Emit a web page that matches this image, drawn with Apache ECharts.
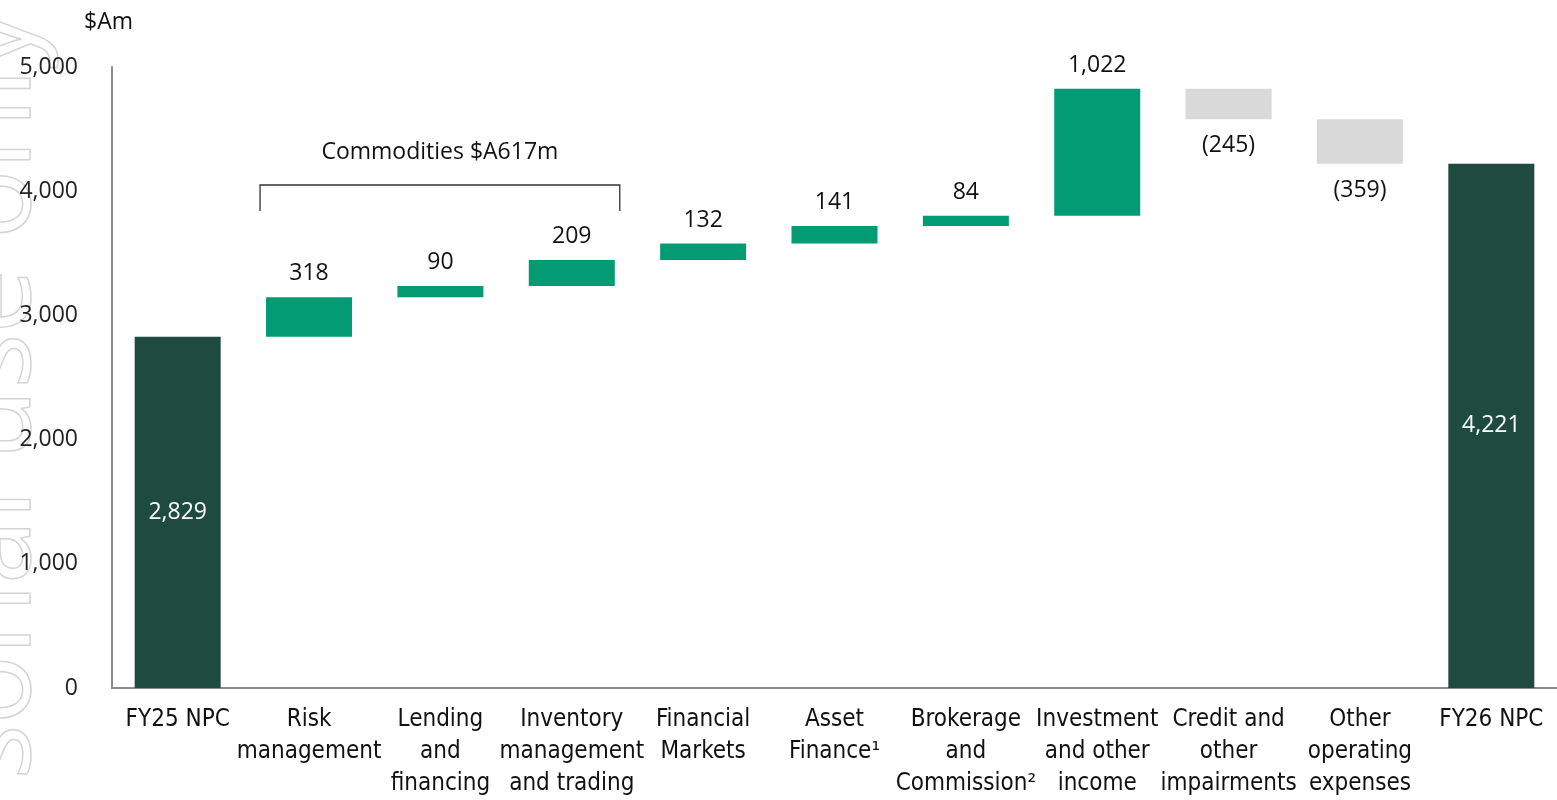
<!DOCTYPE html>
<html>
<head>
<meta charset="utf-8">
<script src="https://cdn.jsdelivr.net/npm/echarts@6/dist/echarts.min.js"></script>
<style>
html,body{margin:0;padding:0;background:#fff;}
#chart{width:1557px;height:800px;}
</style>
</head>
<body>
<div id="chart"></div>
<script>
// ---- data ----
const categories = ['FY25 NPC', 'Risk\nmanagement', 'Lending\nand\nfinancing', 'Inventory\nmanagement\nand trading',
  'Financial\nMarkets', 'Asset\nFinance¹', 'Brokerage\nand\nCommission²', 'Investment\nand other\nincome',
  'Credit and\nother\nimpairments', 'Other\noperating\nexpenses', 'FY26 NPC'];
const openingValue = 2829;
const movements = [318, 90, 209, 132, 141, 84, 1022, -245, -359];
const closingValue = 4221;
const yMin = 0, yMax = 5000, yInterval = 1000;
const bracketLabel = 'Commodities $A617m';
const bracketFrom = 1, bracketTo = 3;   // category indices covered by bracket
const bracketValue = 4050, bracketTickValue = 3840, bracketTextValue = 4310;
const watermarkText = 'For personal use only';

// ---- build waterfall ----
const baseArr = [], incArr = [], decArr = [], totArr = [];
let running = openingValue;
baseArr.push('-'); incArr.push('-'); decArr.push('-'); totArr.push(openingValue);
movements.forEach(m => {
  if (m >= 0) { baseArr.push(running); incArr.push(m); decArr.push('-'); running += m; }
  else { running += m; baseArr.push(running); incArr.push('-'); decArr.push(-m); }
  totArr.push('-');
});
baseArr.push('-'); incArr.push('-'); decArr.push('-'); totArr.push(closingValue);

const fmt = v => Number(v).toLocaleString('en-US');
const numFont = "'Open Sans', 'Noto Sans', sans-serif";
const catFont = "'Liberation Sans Narrow', 'DejaVu Sans Condensed', 'Open Sans', sans-serif";

const chart = echarts.init(document.getElementById('chart'));
const option = {
  animation: false,
  backgroundColor: '#ffffff',
  grid: { left: 112, right: 0, top: 67, bottom: 105, containLabel: false },
  xAxis: {
    type: 'category', data: categories,
    axisLine: { show: true, lineStyle: { color: '#8c8c8c', width: 2 } },
    axisTick: { show: false },
    axisLabel: { interval: 0, color: '#111', fontFamily: catFont, fontSize: 24, lineHeight: 32, margin: 16 }
  },
  yAxis: {
    type: 'value', min: yMin, max: yMax, interval: yInterval,
    axisLine: { show: true, lineStyle: { color: '#8c8c8c', width: 2 } },
    axisTick: { show: false },
    splitLine: { show: false },
    axisLabel: { color: '#222', fontFamily: numFont, fontSize: 23, margin: 34, formatter: v => fmt(v) }
  },
  series: [
    { name: 'base', type: 'bar', stack: 'w', data: baseArr, barWidth: 86,
      itemStyle: { color: 'transparent' }, emphasis: { disabled: true }, silent: true },
    { name: 'total', type: 'bar', stack: 'w', data: totArr, barWidth: 86,
      itemStyle: { color: '#1E4B3E' },
      label: { show: true, position: 'inside', color: '#fff', fontFamily: numFont, fontSize: 23, formatter: p => fmt(p.value) } },
    { name: 'increase', type: 'bar', stack: 'w', data: incArr, barWidth: 86,
      itemStyle: { color: '#039B74' },
      label: { show: true, position: 'top', distance: 12, color: '#111', fontFamily: numFont, fontSize: 23, formatter: p => fmt(p.value) } },
    { name: 'decrease', type: 'bar', stack: 'w', data: decArr, barWidth: 86,
      itemStyle: { color: '#D9D9D9' },
      label: { show: true, position: 'bottom', distance: 15, color: '#111', fontFamily: numFont, fontSize: 23, formatter: p => '(' + fmt(p.value) + ')' } }
  ]
};
chart.setOption(option);

// ---- annotations (bracket, unit, watermark) ----
const leftCat = chart.convertToPixel({ xAxisIndex: 0 }, bracketFrom);
const rightCat = chart.convertToPixel({ xAxisIndex: 0 }, bracketTo);
const bx1 = leftCat - 43 - 6, bx2 = rightCat + 43 + 5;
const by = chart.convertToPixel({ yAxisIndex: 0 }, bracketValue);
const byTick = chart.convertToPixel({ yAxisIndex: 0 }, bracketTickValue);
const byText = chart.convertToPixel({ yAxisIndex: 0 }, bracketTextValue);

chart.setOption({
  graphic: [
    { type: 'text', x: 55, y: 10, rotation: Math.PI / 2, silent: true, z: -10,
      style: { text: watermarkText, font: "115px 'Noto Sans', sans-serif", fill: 'none', stroke: '#d4d4d4', lineWidth: 1.5, textAlign: 'right', textVerticalAlign: 'bottom' } },
    { type: 'text', x: 84, y: 22, style: { text: '$Am', font: "23px " + numFont, fill: '#111', textAlign: 'left', textVerticalAlign: 'middle' } },
    { type: 'polyline', shape: { points: [[bx1, byTick], [bx1, by], [bx2, by], [bx2, byTick]] },
      style: { stroke: '#333', lineWidth: 1.3, fill: 'none' } },
    { type: 'text', x: (bx1 + bx2) / 2, y: byText,
      style: { text: bracketLabel, font: "23px " + numFont, fill: '#111', textAlign: 'center', textVerticalAlign: 'middle' } }
  ]
});
</script>
</body>
</html>
